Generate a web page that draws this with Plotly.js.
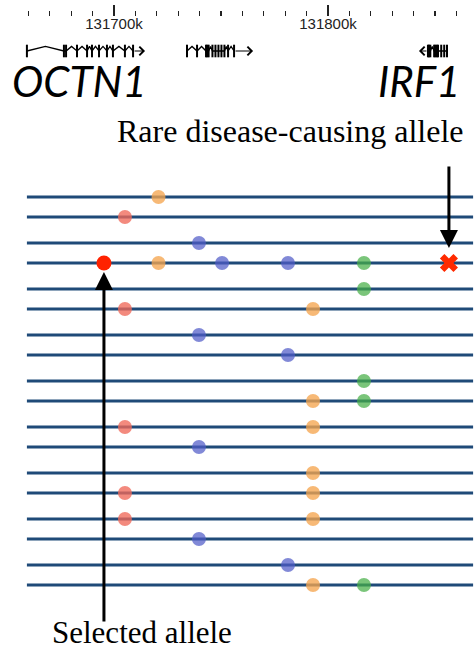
<!DOCTYPE html>
<html><head><meta charset="utf-8">
<script src="https://cdn.plot.ly/plotly-3.0.1.min.js"></script>
<style>html,body{margin:0;padding:0;background:#fff}</style>
</head><body>
<div id="chart" style="width:474px;height:651px"></div>
<script>
// ---- Data (genomic positions in kb) ----
const regionStart = 131659.3, regionEnd = 131867.8;
const nHaplotypes = 18;
const selectedRow = 3;

// variant sites (kb)
const selectedSite = 131695.3;
const rareSite = 131856.5;
const redSite = 131705.1;
const orangeSiteA = 131720.8;
const blueSiteA = 131739.7;
const blueSiteB = 131750.5;
const blueSiteC = 131781.3;
const orangeSiteB = 131793.0;
const greenSite = 131816.8;

// haplotype rows (0 = top) carrying each allele
const redRows = [1, 5, 10, 13, 14];
const orangeARows = [0, 3];
const blueARows = [2, 6, 11, 15];
const blueBRows = [3];
const blueCRows = [3, 7, 16];
const orangeBRows = [5, 9, 10, 12, 13, 14, 17];
const greenRows = [3, 4, 8, 9, 17];

// genes: exon positions (kb), gene end (kb)
const octn1Exons = [131659.3, 131676.6, 131677.6, 131682.7, 131687.4, 131689.7, 131693.0, 131696.7, 131699.5, 131705.1, 131708.9];
const octn1End = 131714.5;
const slc22a5Exons = [131734.1, 131738.8, 131743.0, 131743.6, 131744.2, 131746.0, 131747.4, 131748.8, 131750.2, 131751.6, 131753.3, 131756.1];
const slc22a5End = 131765.0;
const irf1Exons = [131846.7, 131847.2, 131847.8, 131849.6, 131850.2, 131850.8, 131851.4, 131852.9, 131854.3, 131855.6];
const irf1End = 131842.5;

// ---- Helpers ----
function rowPos(i) { return i * 20 + Math.floor(i / 2) * 6; }

const traces = [];
// haplotype lines
{
  const x = [], y = [];
  for (let i = 0; i < nHaplotypes; i++) { x.push(regionStart, regionEnd, null); y.push(rowPos(i), rowPos(i), null); }
  traces.push({type:'scatter', mode:'lines', x, y, xaxis:'x', yaxis:'y', hoverinfo:'skip',
    line:{color:'#1f4a78', width:3}});
}
function dots(sites, color) {
  const x = [], y = [];
  sites.forEach(([site, rows]) => rows.forEach(r => { x.push(site); y.push(rowPos(r)); }));
  traces.push({type:'scatter', mode:'markers', x, y, xaxis:'x', yaxis:'y', hoverinfo:'skip',
    marker:{size:14, color, line:{width:0}}});
}
dots([[orangeSiteA, orangeARows], [orangeSiteB, orangeBRows]], 'rgba(245,165,80,0.78)');
dots([[redSite, redRows]], 'rgba(240,105,90,0.78)');
dots([[blueSiteA, blueARows], [blueSiteB, blueBRows], [blueSiteC, blueCRows]], 'rgba(80,92,200,0.72)');
dots([[greenSite, greenRows]], 'rgba(70,175,70,0.72)');
traces.push({type:'scatter', mode:'markers', x:[selectedSite], y:[rowPos(selectedRow)], xaxis:'x', yaxis:'y',
  hoverinfo:'skip', marker:{size:15, color:'#ff2200'}});
traces.push({type:'scatter', mode:'markers', x:[rareSite], y:[rowPos(selectedRow)], xaxis:'x', yaxis:'y',
  hoverinfo:'skip', marker:{size:16, symbol:'x', color:'#ff2a00', line:{width:0}}});

// genes
function gene(exons, end) {
  const x = [], y = [];
  for (let i = 0; i < exons.length - 1; i++) {
    const gap = exons[i + 1] - exons[i];
    x.push(exons[i]); y.push(0);
    if (gap > 1.5) { x.push((exons[i] + exons[i + 1]) / 2); y.push(0.5); }
  }
  x.push(exons[exons.length - 1]); y.push(0);
  traces.push({type:'scatter', mode:'lines', x, y, xaxis:'x', yaxis:'y2', hoverinfo:'skip',
    line:{color:'#000', width:1.3}});
  traces.push({type:'scatter', mode:'markers', x:exons, y:exons.map(() => 0), xaxis:'x', yaxis:'y2',
    hoverinfo:'skip', marker:{symbol:'line-ns', size:9, line:{width:2, color:'#000'}}});
}
gene(octn1Exons, octn1End);
gene(slc22a5Exons, slc22a5End);
gene(irf1Exons, irf1End);

// empty trace so the coordinate-ruler subplot exists
traces.push({type:'scatter', mode:'markers', x:[], y:[], xaxis:'x2', yaxis:'y3', hoverinfo:'skip'});

function geneArrow(from, to) {
  return {xref:'x', yref:'y2', axref:'x', ayref:'y2', x:to, y:0, ax:from, ay:0, text:'',
    showarrow:true, arrowhead:4, arrowsize:1.4, arrowwidth:1.2, arrowcolor:'#000', font:{size:1}};
}

const serif = 'Liberation Serif, Times New Roman, serif';
const annotations = [
  geneArrow(octn1Exons[octn1Exons.length - 1], octn1End),
  geneArrow(slc22a5Exons[slc22a5Exons.length - 1], slc22a5End),
  geneArrow(irf1Exons[0], irf1End),
  {xref:'paper', yref:'paper', x:10/474, y:1 - 81/651, xanchor:'left', yanchor:'middle', showarrow:false,
    text:'<i>OCTN1</i>', font:{family:'Lato, sans-serif', size:42, color:'#000'}},
  {xref:'paper', yref:'paper', x:462/474, y:1 - 81/651, xanchor:'right', yanchor:'middle', showarrow:false,
    text:'<i>IRF1</i>', font:{family:'Lato, sans-serif', size:42, color:'#000'}},
  {xref:'paper', yref:'paper', x:290/474, y:1 - 131/651, xanchor:'center', yanchor:'middle', showarrow:false,
    text:'Rare disease-causing allele', font:{family:serif, size:32, color:'#000'}},
  {xref:'paper', yref:'paper', x:142/474, y:0, xanchor:'center', yanchor:'bottom', showarrow:false, borderpad:0,
    text:'Selected allele', font:{family:serif, size:31, color:'#000'}},
  {xref:'x', yref:'y', x:rareSite, y:rowPos(selectedRow), ax:0, ay:-98, text:'', showarrow:true,
    arrowhead:2, arrowsize:1.2, arrowwidth:3, arrowcolor:'#000', standoff:15, font:{size:1}},
  {xref:'x', yref:'y', x:selectedSite, y:rowPos(selectedRow), ax:0, ay:360, text:'', showarrow:true,
    arrowhead:2, arrowsize:1.2, arrowwidth:3, arrowcolor:'#000', standoff:9, font:{size:1}}
];

const xDomain = [20/474, 1];
const xRange = [131656.07, 131868.22];
const layout = {
  width:474, height:651, margin:{l:0, r:0, t:0, b:0},
  paper_bgcolor:'#fff', plot_bgcolor:'rgba(0,0,0,0)', showlegend:false,
  xaxis:{domain:xDomain, range:xRange, anchor:'y', visible:false},
  xaxis2:{domain:xDomain, range:xRange, anchor:'y3', side:'bottom',
    showgrid:false, zeroline:false, showline:false, ticks:'inside', ticklen:11, tickwidth:1.3, tickcolor:'#222',
    tick0:131700, dtick:100, tickformat:'d', ticksuffix:'k', ticklabelstandoff:-3,
    tickfont:{family:'Arial, Liberation Sans, sans-serif', size:15, color:'#222'},
    minor:{ticks:'inside', dtick:10, tick0:131700, ticklen:5, tickwidth:1.3, tickcolor:'#222', showgrid:false}},
  yaxis:{domain:[1 - 600/651, 1 - 180/651], range:[403, -17], visible:false, fixedrange:true},
  yaxis2:{domain:[1 - 62/651, 1 - 40/651], range:[-1.2, 1.2], visible:false},
  yaxis3:{domain:[1 - 16/651, 1 - 2/651], range:[0, 1], visible:false, anchor:'x2'},
  annotations
};
Plotly.newPlot('chart', traces, layout, {staticPlot:true, displayModeBar:false});
</script>
</body></html>
